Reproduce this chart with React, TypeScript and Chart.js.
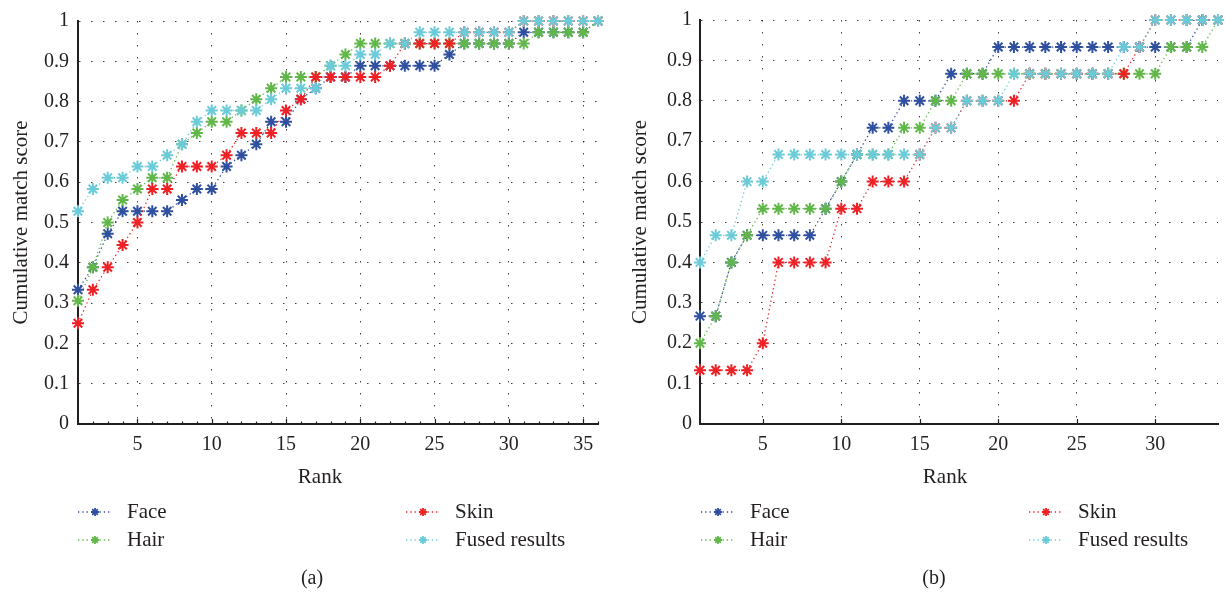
import { useEffect, useRef } from 'react';
import { Chart, registerables } from 'chart.js';

Chart.register(...registerables);

// ---- data -------------------------------------------------------------
const seriesNames = ['Face', 'Skin', 'Hair', 'Fused results'];

// panel (a): 36 ranks
const ranksA = Array.from({ length: 36 }, (_, i) => i + 1);
const faceA = [0.333, 0.389, 0.472, 0.528, 0.528, 0.528, 0.528, 0.556, 0.583, 0.583, 0.639, 0.667, 0.694, 0.75, 0.75, 0.806, 0.833, 0.861, 0.861, 0.889, 0.889, 0.889, 0.889, 0.889, 0.889, 0.917, 0.944, 0.944, 0.944, 0.944, 0.972, 0.972, 0.972, 0.972, 0.972, 1];
const skinA = [0.25, 0.333, 0.389, 0.444, 0.5, 0.583, 0.583, 0.639, 0.639, 0.639, 0.667, 0.722, 0.722, 0.722, 0.778, 0.806, 0.861, 0.861, 0.861, 0.861, 0.861, 0.889, 0.944, 0.944, 0.944, 0.944, 0.972, 0.972, 0.972, 0.972, 1, 1, 1, 1, 1, 1];
const hairA = [0.306, 0.389, 0.5, 0.556, 0.583, 0.611, 0.611, 0.694, 0.722, 0.75, 0.75, 0.778, 0.806, 0.833, 0.861, 0.861, 0.861, 0.889, 0.917, 0.944, 0.944, 0.944, 0.944, 0.944, 0.944, 0.944, 0.944, 0.944, 0.944, 0.944, 0.944, 0.972, 0.972, 0.972, 0.972, 1];
const fusedA = [0.528, 0.583, 0.611, 0.611, 0.639, 0.639, 0.667, 0.694, 0.75, 0.778, 0.778, 0.778, 0.778, 0.806, 0.833, 0.833, 0.833, 0.889, 0.889, 0.917, 0.917, 0.944, 0.944, 0.972, 0.972, 0.972, 0.972, 0.972, 0.972, 0.972, 1, 1, 1, 1, 1, 1];

// panel (b): 34 ranks
const ranksB = Array.from({ length: 34 }, (_, i) => i + 1);
const faceB = [0.267, 0.267, 0.4, 0.467, 0.467, 0.467, 0.467, 0.467, 0.533, 0.6, 0.667, 0.733, 0.733, 0.8, 0.8, 0.8, 0.867, 0.867, 0.867, 0.933, 0.933, 0.933, 0.933, 0.933, 0.933, 0.933, 0.933, 0.933, 0.933, 0.933, 0.933, 0.933, 1, 1];
const skinB = [0.133, 0.133, 0.133, 0.133, 0.2, 0.4, 0.4, 0.4, 0.4, 0.533, 0.533, 0.6, 0.6, 0.6, 0.667, 0.733, 0.733, 0.8, 0.8, 0.8, 0.8, 0.867, 0.867, 0.867, 0.867, 0.867, 0.867, 0.867, 0.933, 1, 1, 1, 1, 1];
const hairB = [0.2, 0.267, 0.4, 0.467, 0.533, 0.533, 0.533, 0.533, 0.533, 0.6, 0.667, 0.667, 0.667, 0.733, 0.733, 0.8, 0.8, 0.867, 0.867, 0.867, 0.867, 0.867, 0.867, 0.867, 0.867, 0.867, 0.867, 0.867, 0.867, 0.867, 0.933, 0.933, 0.933, 1];
const fusedB = [0.4, 0.467, 0.467, 0.6, 0.6, 0.667, 0.667, 0.667, 0.667, 0.667, 0.667, 0.667, 0.667, 0.667, 0.667, 0.733, 0.733, 0.8, 0.8, 0.8, 0.867, 0.867, 0.867, 0.867, 0.867, 0.867, 0.867, 0.933, 0.933, 1, 1, 1, 1, 1];

const xTicksA = [5, 10, 15, 20, 25, 30, 35];
const xTicksB = [5, 10, 15, 20, 25, 30];
const yTicks = [0, 0.1, 0.2, 0.3, 0.4, 0.5, 0.6, 0.7, 0.8, 0.9, 1];
const yTickLabels = ['0', '0.1', '0.2', '0.3', '0.4', '0.5', '0.6', '0.7', '0.8', '0.9', '1'];

// ---- styling ----------------------------------------------------------
const FONT = '"Liberation Serif", "DejaVu Serif", serif';
const INK = '#231f20';
const seriesColors = ['#2f4f9f', '#ee2226', '#62b74a', '#6ccbd8'];
// Fused on top, then Skin, Hair, Face underneath
const drawOrder = [4, 2, 3, 1];
const LINE_DASH = [1.3, 3];

function drawStar(ctx: CanvasRenderingContext2D, x: number, y: number, r: number) {
  ctx.beginPath();
  for (let k = 0; k < 4; k++) {
    const a = (k * Math.PI) / 4;
    ctx.moveTo(x - Math.cos(a) * r, y - Math.sin(a) * r);
    ctx.lineTo(x + Math.cos(a) * r, y + Math.sin(a) * r);
  }
  ctx.stroke();
}

// Rank label, two-column legend and panel caption under the axes
const panelLegend = {
  id: 'panelLegend',
  afterDraw(chart: any, _args: any, opts: any) {
    const ctx: CanvasRenderingContext2D = chart.ctx;
    ctx.save();
    ctx.fillStyle = INK;
    ctx.textAlign = 'center';
    ctx.textBaseline = 'middle';
    ctx.font = `21px ${FONT}`;
    ctx.fillText(opts.xTitle, opts.xTitleX, opts.xTitleY);

    chart.data.datasets.forEach((ds: any, i: number) => {
      const x0 = opts.columns[i % 2];
      const y = opts.rows[Math.floor(i / 2)];
      ctx.strokeStyle = ds.borderColor;
      ctx.lineWidth = 1.3;
      ctx.setLineDash(LINE_DASH);
      ctx.beginPath();
      ctx.moveTo(x0, y);
      ctx.lineTo(x0 + 34, y);
      ctx.stroke();
      ctx.setLineDash([]);
      ctx.lineWidth = 1.8;
      drawStar(ctx, x0 + 17, y, 4);
      ctx.fillStyle = INK;
      ctx.font = `21px ${FONT}`;
      ctx.textAlign = 'left';
      ctx.textBaseline = 'middle';
      ctx.fillText(ds.label, x0 + opts.textGap, y);
    });
    ctx.font = `20px ${FONT}`;
    ctx.textAlign = 'center';
    ctx.textBaseline = 'middle';
    ctx.fillStyle = INK;
    ctx.fillText(opts.caption, opts.captionX, opts.captionY);
    ctx.restore();
  },
};

// Tick marks pointing into the plot along the rank axis
const insideTicks = {
  id: 'insideTicks',
  afterDraw(chart: any, _args: any, opts: any) {
    const xs = chart.scales.x;
    const bottom = chart.chartArea.bottom;
    const ctx: CanvasRenderingContext2D = chart.ctx;
    ctx.save();
    ctx.strokeStyle = INK;
    ctx.lineWidth = 1.2;
    ctx.beginPath();
    for (const t of xs.ticks) {
      const px = Math.round(xs.getPixelForValue(t.value)) + 0.5;
      ctx.moveTo(px, bottom);
      ctx.lineTo(px, bottom - 5);
    }
    if (opts.minor) {
      for (let v = Math.ceil(xs.min); v <= xs.max; v++) {
        const px = Math.round(xs.getPixelForValue(v)) + 0.5;
        ctx.moveTo(px, bottom);
        ctx.lineTo(px, bottom - 2.5);
      }
    }
    ctx.stroke();
    ctx.restore();
  },
};

type PanelSpec = {
  ranks: number[];
  series: number[][];
  xTicks: number[];
  maxRank: number;
  yAxisWidth: number;
  padRight: number;
  yTickPad: number;
  yTitlePad: number;
  minorTicks: boolean;
  xTitleX: number;
  legendColumns: number[];
  caption: string;
  captionX: number;
};

function buildConfig(p: PanelSpec): any {
  const datasets = p.series.map((vals, i) => ({
    label: seriesNames[i],
    data: vals.map((v, k) => ({ x: p.ranks[k], y: v })),
    showLine: true,
    clip: false,
    borderColor: seriesColors[i],
    backgroundColor: seriesColors[i],
    borderWidth: 1.3,
    borderDash: LINE_DASH,
    pointStyle: 'star',
    pointRadius: 6,
    pointBorderWidth: 2,
    pointBorderColor: seriesColors[i],
    pointBackgroundColor: seriesColors[i],
    order: drawOrder[i],
  }));

  const tickFont = { family: FONT, size: 20 };
  const titleFont = { family: FONT, size: 21 };
  const gridCommon = { color: 'rgba(35,31,32,0.85)', lineWidth: 1, drawTicks: false };
  const borderCommon = { display: true, color: INK, width: 2, dash: [1.5, 10.5] };

  return {
    type: 'scatter',
    data: { datasets },
    options: {
      responsive: false,
      animation: false,
      devicePixelRatio: 1,
      layout: { padding: { left: 0, right: p.padRight, top: 15, bottom: 92 } },
      plugins: {
        legend: { display: false },
        tooltip: { enabled: false },
        panelLegend: {
          xTitle: 'Rank',
          xTitleX: p.xTitleX,
          xTitleY: 477,
          columns: p.legendColumns,
          rows: [512, 540],
          textGap: 49,
          caption: p.caption,
          captionX: p.captionX,
          captionY: 579,
        },
        insideTicks: { minor: p.minorTicks },
      },
      scales: {
        x: {
          type: 'linear',
          min: 1,
          max: p.maxRank,
          afterBuildTicks: (ax: any) => {
            ax.ticks = p.xTicks.map((v) => ({ value: v }));
          },
          afterFit: (ax: any) => {
            ax.height = 76;
          },
          ticks: { padding: 9, color: INK, font: tickFont, maxRotation: 0, autoSkip: false },
          grid: gridCommon,
          border: borderCommon,
        },
        y: {
          type: 'linear',
          min: 0,
          max: 1,
          afterBuildTicks: (ax: any) => {
            ax.ticks = yTicks.map((v) => ({ value: v }));
          },
          afterFit: (ax: any) => {
            ax.width = p.yAxisWidth;
          },
          ticks: {
            padding: p.yTickPad,
            color: INK,
            font: tickFont,
            autoSkip: false,
            callback: (_v: any, i: number) => yTickLabels[i],
          },
          grid: gridCommon,
          border: borderCommon,
          title: {
            display: true,
            text: 'Cumulative match score',
            color: INK,
            font: titleFont,
            padding: { top: p.yTitlePad, bottom: 0 },
          },
        },
      },
    },
    plugins: [panelLegend, insideTicks],
  };
}

const panelA: PanelSpec = {
  ranks: ranksA,
  series: [faceA, skinA, hairA, fusedA],
  xTicks: xTicksA,
  maxRank: 36,
  yAxisWidth: 78,
  padRight: 15,
  yTickPad: 9,
  yTitlePad: 9,
  minorTicks: true,
  xTitleX: 320,
  legendColumns: [78, 406],
  caption: '(a)',
  captionX: 312,
};

const panelB: PanelSpec = {
  ranks: ranksB,
  series: [faceB, skinB, hairB, fusedB],
  xTicks: xTicksB,
  maxRank: 34,
  yAxisWidth: 87,
  padRight: 6,
  yTickPad: 8,
  yTitlePad: 15,
  minorTicks: false,
  xTitleX: 332,
  legendColumns: [88, 416],
  caption: '(b)',
  captionX: 321,
};

function Panel({ spec, left }: { spec: PanelSpec; left: number }) {
  const ref = useRef<HTMLCanvasElement | null>(null);
  useEffect(() => {
    if (!ref.current) return;
    const chart = new Chart(ref.current, buildConfig(spec));
    return () => chart.destroy();
  }, [spec]);
  return (
    <canvas
      ref={ref}
      width={613}
      height={592}
      style={{ position: 'absolute', left, top: 0, width: 613, height: 592 }}
    />
  );
}

export default function App() {
  return (
    <div style={{ position: 'absolute', left: 0, top: 0, width: 1226, height: 592, background: '#fff' }}>
      <Panel spec={panelA} left={0} />
      <Panel spec={panelB} left={613} />
    </div>
  );
}
